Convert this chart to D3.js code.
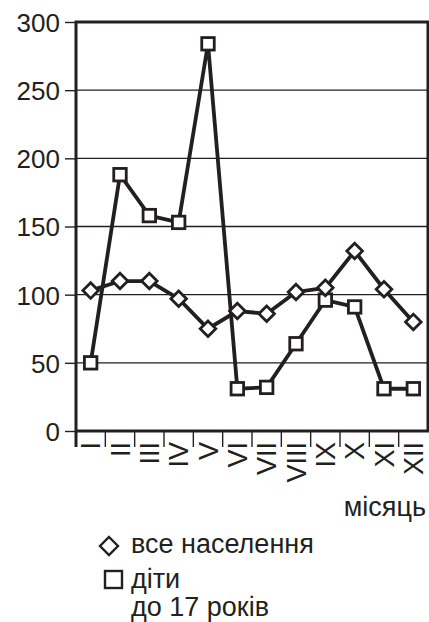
<!DOCTYPE html>
<html><head><meta charset="utf-8">
<script src="https://cdn.jsdelivr.net/npm/d3@7"></script>
<style>
html,body{margin:0;padding:0;background:#fff;}
text{font-family:"Liberation Sans",Arial,sans-serif;fill:#231f20;}
</style></head>
<body><svg id="c" width="429" height="622"></svg>
<script>
const months = ["I","II","III","IV","V","VI","VII","VIII","IX","X","XI","XII"];
const allPopulation = [103, 110, 110, 97, 75, 88, 86, 102, 105, 132, 104, 80];
const children = [50, 188, 158, 153, 284, 31, 32, 64, 96, 91, 31, 31];
const yTicks = [0, 50, 100, 150, 200, 250, 300];
const xTitle = "місяць";
const legendAll = "все населення";
const legendKids = ["діти", "до 17 років"];

const ink = "#231f20";
const svg = d3.select("#c");
const L = 76, R = 428, T = 22, B = 431;
const x = d3.scaleBand().domain(months).range([L, R]);
const y = d3.scaleLinear().domain([0, 300]).range([B, T]);

// gridlines
svg.append("g").selectAll("line").data(yTicks.filter(v => v > 0 && v < 300)).join("line")
  .attr("x1", L).attr("x2", R).attr("y1", d => y(d)).attr("y2", d => y(d))
  .attr("stroke", ink).attr("stroke-width", 1.4);

// y axis ticks & labels
const ya = svg.append("g").attr("transform", `translate(${L},0)`)
  .call(d3.axisLeft(y).tickValues(yTicks).tickSize(11).tickPadding(5));
ya.select(".domain").remove();
ya.selectAll(".tick line").attr("stroke", ink).attr("stroke-width", 1.4);
ya.selectAll(".tick text").attr("font-size", 26).attr("fill", ink)
  .attr("font-family", "Liberation Sans, Arial, sans-serif").attr("dy", "0.36em");

// frame
svg.append("path")
  .attr("d", `M${L},${B+16}V${T}H${R}V${B}H${L}`)
  .attr("fill", "none").attr("stroke", ink).attr("stroke-width", 3);

// x ticks at band boundaries
svg.append("g").selectAll("line").data(months.slice(1)).join("line")
  .attr("x1", d => x(d)).attr("x2", d => x(d)).attr("y1", B).attr("y2", B + 16)
  .attr("stroke", ink).attr("stroke-width", 1.4);

// x labels (rotated)
svg.append("g").selectAll("text").data(months).join("text")
  .attr("transform", d => `translate(${x(d) + x.bandwidth()/2},${B + 11}) rotate(-90)`)
  .attr("text-anchor", "end").attr("dy", "0.36em")
  .attr("font-size", 27).text(d => d);

// lines
const line = d3.line().x((d, i) => x(months[i]) + x.bandwidth()/2).y(d => y(d));
svg.append("path").datum(children).attr("d", line)
  .attr("fill", "none").attr("stroke", ink).attr("stroke-width", 3.8);
svg.append("path").datum(allPopulation).attr("d", line)
  .attr("fill", "none").attr("stroke", ink).attr("stroke-width", 3.8);

// markers
const sq = 12.5;
svg.append("g").selectAll("rect").data(children).join("rect")
  .attr("x", (d, i) => x(months[i]) + x.bandwidth()/2 - sq/2)
  .attr("y", d => y(d) - sq/2).attr("width", sq).attr("height", sq)
  .attr("fill", "#fff").attr("stroke", ink).attr("stroke-width", 2.8);
const dm = 7.8;
svg.append("g").selectAll("path").data(allPopulation).join("path")
  .attr("transform", (d, i) => `translate(${x(months[i]) + x.bandwidth()/2},${y(d)})`)
  .attr("d", `M0,${-dm}L${dm},0L0,${dm}L${-dm},0Z`)
  .attr("fill", "#fff").attr("stroke", ink).attr("stroke-width", 2.8);

// axis title
svg.append("text").attr("x", 426).attr("y", 516).attr("text-anchor", "end")
  .attr("font-size", 27).text(xTitle);

// legend
svg.append("path").attr("transform", "translate(109,546)")
  .attr("d", "M0,-9L9,0L0,9L-9,0Z").attr("fill", "#fff").attr("stroke", ink).attr("stroke-width", 2.4);
svg.append("text").attr("x", 131).attr("y", 553).attr("font-size", 27).text(legendAll);
svg.append("rect").attr("x", 105).attr("y", 571).attr("width", 17).attr("height", 17)
  .attr("fill", "#fff").attr("stroke", ink).attr("stroke-width", 2.4);
svg.append("text").attr("x", 131).attr("y", 588).attr("font-size", 27).text(legendKids[0]);
svg.append("text").attr("x", 131).attr("y", 616).attr("font-size", 27).text(legendKids[1]);
</script></body></html>
